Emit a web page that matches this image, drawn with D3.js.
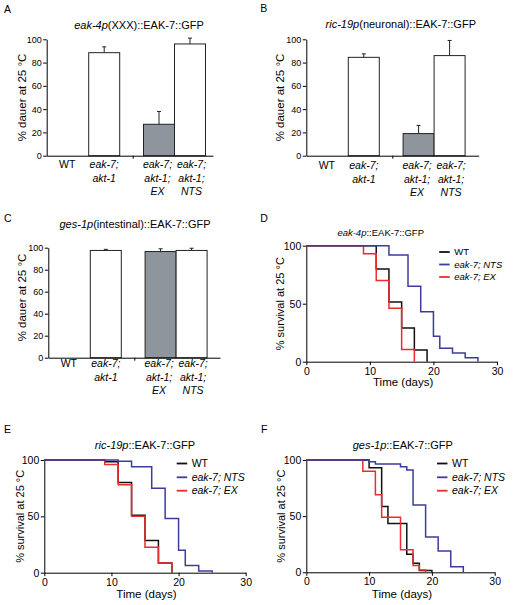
<!DOCTYPE html>
<html><head><meta charset="utf-8">
<script src="https://cdn.jsdelivr.net/npm/d3@7"></script>
<style>body{margin:0;background:#fff}svg{display:block}</style>
</head><body>
<svg id="fig" width="514" height="605"></svg>
<script>
// ---------------- DATA ----------------
const barCategories = ["WT", "eak-7; akt-1", "eak-7; akt-1; EX", "eak-7; akt-1; NTS"];
const dauerA = [0, 88.5, 27, 96];
const errA   = [0, 5, 11, 5];
const dauerB = [0, 84.5, 19, 86];
const errB   = [0, 3, 7, 13];
const dauerC = [0, 97.5, 96.5, 97.5];
const errC   = [0, 1, 2.5, 2];
const barTicks = [0, 20, 40, 60, 80, 100];

const seriesNames = ["WT", "eak-7; NTS", "eak-7; EX"];
const survTicksX = [0, 10, 20, 30];
const survTicksY = [0, 50, 100];
// [day, % survival]
const D_WT  = [[0,100],[11,80],[13,51.5],[15,29],[17,10],[19,0]];
const D_NTS = [[0,100],[13,92],[16,65],[18,43],[20,22],[21,11.5],[23,7.5],[25,3.5],[27,0]];
const D_EX  = [[0,100],[9,93],[11,70],[13,46],[15,10.5],[17,0]];
const E_WT  = [[0,100],[9,98.5],[11,80],[13,51],[15,28.5],[17,8.5],[19,0]];
const E_NTS = [[0,100],[11,99],[13,94],[16,75],[18,48],[20,20],[21,6.5],[23,1.5],[25,0]];
const E_EX  = [[0,100],[9,96],[11,78],[13,50],[15,22.5],[17,8.5],[19,0]];
const F_WT  = [[0,100],[10,93],[12,58.5],[13,43.5],[16,16],[17,8],[18,1.5],[20,0]];
const F_NTS = [[0,100],[10,98.5],[11,96.5],[15,94],[16,91],[17,60],[19,31.5],[21,19],[23,5],[25,0]];
const F_EX  = [[0,100],[9,90],[11,69],[12,49],[15,20],[17,6],[18,2],[19,0]];

// ---------------- STYLE ----------------
const FONT = "Arial, 'Liberation Sans', Helvetica, sans-serif";
const COLORS = {"WT": "#111111", "eak-7; NTS": "#3c3c9c", "eak-7; EX": "#ee2b2b"};
const BAR_FILL = ["#ffffff", "#ffffff", "#8f959c", "#ffffff"];
const LABEL_SHIFT = [0, 0, -1.5, 1.5];

const svg = d3.select("#fig").style("font-family", FONT);
svg.append("rect").attr("width", 514).attr("height", 605).attr("fill", "#fff");

function styleAxis(g, fs) {
  g.selectAll("path.domain").attr("stroke", "#000").attr("stroke-width", 1);
  g.selectAll(".tick line").attr("stroke", "#000").attr("stroke-width", 1);
  g.selectAll(".tick text").attr("fill", "#000").style("font-size", fs + "px").style("font-family", FONT);
}

function title(x, y, parts, fs) {
  const t = svg.append("text").attr("x", x).attr("y", y).attr("text-anchor", "middle")
    .style("font-size", fs + "px").attr("fill", "#000");
  parts.forEach(p => t.append("tspan").text(p[0]).style("font-style", p[1] ? "italic" : "normal"));
}
function letter(x, y, s) {
  svg.append("text").attr("x", x).attr("y", y).text(s).style("font-size", "10.5px").attr("fill", "#000");
}
function yLabel(x, y, s, fs) {
  svg.append("text").attr("transform", `translate(${x},${y}) rotate(-90)`).attr("text-anchor", "middle")
    .attr("dy", "0.35em").style("font-size", fs + "px").text(s).attr("fill", "#000");
}

// ---------------- BAR PANELS ----------------
function barPanel(cfg, values, errs) {
  const y = d3.scaleLinear().domain([0, 100]).range([cfg.yBot, cfg.yTop]);
  const barW = 31;
  const x = d3.scaleOrdinal().domain(barCategories)
    .range([5, 42, 96.8, 127.8].map(o => cfg.x0 + o));
  const g = svg.append("g");
  g.selectAll("rect.bar").data(barCategories).join("rect")
    .attr("x", d => x(d)).attr("width", barW)
    .attr("y", (d, i) => y(values[i])).attr("height", (d, i) => y(0) - y(values[i]))
    .attr("fill", (d, i) => BAR_FILL[i])
    .attr("stroke", "#222").attr("stroke-width", 1)
    .attr("display", (d, i) => values[i] > 0 ? null : "none");
  barCategories.forEach((c, i) => {
    if (!(values[i] > 0)) return;
    const cx = x(c) + barW / 2;
    g.append("line").attr("x1", cx).attr("x2", cx).attr("y1", y(values[i])).attr("y2", y(values[i] + errs[i]))
      .attr("stroke", "#222").attr("stroke-width", 1);
    g.append("line").attr("x1", cx - 2).attr("x2", cx + 2).attr("y1", y(values[i] + errs[i])).attr("y2", y(values[i] + errs[i]))
      .attr("stroke", "#222").attr("stroke-width", 1);
  });
  const ya = g.append("g").attr("transform", `translate(${cfg.x0},0)`)
    .call(d3.axisLeft(y).tickValues(barTicks).tickSize(3.5).tickSizeOuter(0).tickPadding(1.5));
  styleAxis(ya, 9);
  const xl = d3.scaleLinear().domain([0, cfg.x1 - cfg.x0]).range([cfg.x0, cfg.x1]);
  const xa = g.append("g").attr("transform", `translate(0,${cfg.yBot})`)
    .call(d3.axisBottom(xl).tickValues([86]).tickFormat("").tickSize(3).tickSizeOuter(0));
  styleAxis(xa, 9);
  barCategories.forEach((c, i) => {
    const lines = c.split("; ").map((s, k, a) => k < a.length - 1 ? s + ";" : s);
    const t = g.append("text").attr("text-anchor", "middle").style("font-size", "10.5px").attr("fill", "#000")
      .style("font-style", c === "WT" ? "normal" : "italic");
    lines.forEach((s, k) => t.append("tspan").attr("x", x(c) + barW / 2 + LABEL_SHIFT[i])
      .attr("y", cfg.labelBase + k * 13.5).text(s));
  });
  letter(cfg.lx, cfg.ly, cfg.letter);
  title(cfg.tx, cfg.ty, cfg.title, 11);
  yLabel(cfg.ylx, cfg.yly, "% dauer at 25 \u00B0C", 11.5);
}

barPanel({x0: 46.7, x1: 213, yTop: 39.3, yBot: 155.7, labelBase: 168.3, letter: "A", lx: 4, ly: 13.3,
  tx: 139, ty: 29.3, title: [["eak-4p", true], ["(XXX)::EAK-7::GFP", false]], ylx: 22, yly: 97.5}, dauerA, errA);
barPanel({x0: 306.3, x1: 478.7, yTop: 39.3, yBot: 155.7, labelBase: 169, letter: "B", lx: 260.3, ly: 11.7,
  tx: 400.8, ty: 27.7, title: [["ric-19p", true], ["(neuronal)::EAK-7::GFP", false]], ylx: 280.3, yly: 97.5}, dauerB, errB);
barPanel({x0: 48.3, x1: 220, yTop: 247.7, yBot: 357.7, labelBase: 367, letter: "C", lx: 4, ly: 221.7,
  tx: 135, ty: 228.3, title: [["ges-1p", true], ["(intestinal)::EAK-7::GFP", false]], ylx: 21.7, yly: 297.5}, dauerC, errC);

// ---------------- SURVIVAL PANELS ----------------
function survPanel(cfg, series) {
  const x = d3.scaleLinear().domain([0, 30]).range([cfg.x0, cfg.x1]);
  const y = d3.scaleLinear().domain([0, 100]).range([cfg.yBot, cfg.yTop]);
  const g = svg.append("g");
  const line = d3.line().x(d => x(d[0])).y(d => y(d[1])).curve(d3.curveStepAfter);
  const xa = g.append("g").attr("transform", `translate(0,${cfg.yBot})`)
    .call(d3.axisBottom(x).tickValues(survTicksX).tickSize(3.5).tickSizeOuter(0).tickPadding(2));
  styleAxis(xa, 10.5);
  const ya = g.append("g").attr("transform", `translate(${cfg.x0},0)`)
    .call(d3.axisLeft(y).tickValues(survTicksY).tickSize(3.5).tickSizeOuter(0).tickPadding(1.5));
  styleAxis(ya, 10.5);
  const order = [0, 2, 1];
  order.forEach(i => {
    g.append("path").datum(series[i]).attr("d", line).attr("fill", "none")
      .attr("stroke", COLORS[seriesNames[i]]).attr("stroke-width", 1.5);
  });
  seriesNames.forEach((n, i) => {
    const yy = cfg.legY[i];
    g.append("line").attr("x1", cfg.legX).attr("x2", cfg.legX + 10.5).attr("y1", yy).attr("y2", yy)
      .attr("stroke", COLORS[n]).attr("stroke-width", 1.8);
    g.append("text").attr("x", cfg.legX + 15).attr("y", yy).attr("dy", "0.35em")
      .style("font-size", cfg.legFs + "px").style("font-style", n === "WT" ? "normal" : "italic").text(n).attr("fill", "#000");
  });
  g.append("text").attr("x", (cfg.x0 + cfg.x1) / 2 + 1.5).attr("y", cfg.xlabY).attr("text-anchor", "middle")
    .style("font-size", "11.5px").text("Time (days)").attr("fill", "#000");
  yLabel(cfg.ylx, (cfg.yTop + cfg.yBot) / 2, "% survival at 25 \u00B0C", 11);
  letter(cfg.lx, cfg.ly, cfg.letter);
  title(cfg.tx, cfg.ty, cfg.title, cfg.titleFs);
}

survPanel({x0: 306.3, x1: 497, yTop: 245.7, yBot: 361.7, xlabY: 386, ylx: 280.3, letter: "D", lx: 260.3, ly: 221.7,
  tx: 380.7, ty: 236, titleFs: 9.5, title: [["eak-4p", true], ["::EAK-7::GFP", false]],
  legX: 439.2, legY: [252, 264.5, 277], legFs: 9.5}, [D_WT, D_NTS, D_EX]);
survPanel({x0: 44.3, x1: 245.7, yTop: 460, yBot: 572.7, xlabY: 598, ylx: 20.5, letter: "E", lx: 4, ly: 432.7,
  tx: 145, ty: 449.3, titleFs: 11, title: [["ric-19p", true], ["::EAK-7::GFP", false]],
  legX: 176.7, legY: [463.5, 477.3, 490.7], legFs: 10.5}, [E_WT, E_NTS, E_EX]);
survPanel({x0: 306.3, x1: 494.7, yTop: 460, yBot: 572.3, xlabY: 598, ylx: 280.7, letter: "F", lx: 261, ly: 432.7,
  tx: 402.8, ty: 449.3, titleFs: 11, title: [["ges-1p", true], ["::EAK-7::GFP", false]],
  legX: 437, legY: [463.5, 477.3, 490.7], legFs: 10.5}, [F_WT, F_NTS, F_EX]);
</script>
</body></html>
